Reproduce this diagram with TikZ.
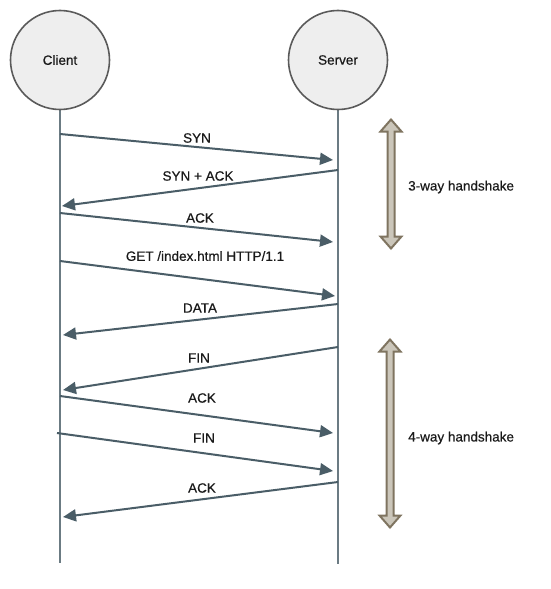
\documentclass[tikz,border=0pt]{standalone}
\usepackage{fontspec}
\setmainfont{Liberation Sans}[FakeBold=0.5]
\usetikzlibrary{arrows.meta}

\definecolor{partyfill}{HTML}{EEEEEE}
\definecolor{partyline}{HTML}{5A5A5A}
\definecolor{lifecol}{HTML}{6B7B83}
\definecolor{msgcol}{HTML}{4A5D67}
\definecolor{textcol}{HTML}{1A1A1A}
\definecolor{shakefill}{HTML}{CBC6BA}
\definecolor{shakeline}{HTML}{7F7460}

\begin{document}
\begin{tikzpicture}[x=1pt,y=-1pt,font=\fontsize{13.5}{16}\selectfont,
    party/.style={circle,draw=partyline,fill=partyfill,line width=1.6pt,
        minimum size=99pt,inner sep=0pt,text=textcol},
    lifeline/.style={draw=lifecol,line width=2pt},
    msg/.style={draw=msgcol,line width=2pt,
        -{Triangle[length=13pt,width=12pt,fill=msgcol]}},
    lbl/.style={text=textcol,inner sep=0pt},
    shake/.style={draw=shakeline,fill=shakefill,line width=2pt}]

    \useasboundingbox (0,0) rectangle (550,589);

    % Define the two parties and their lifelines
    \coordinate (client-end) at (60,563);
    \coordinate (server-end) at (338,564);
    \draw[lifeline] (60,100) -- (client-end);
    \draw[lifeline] (338,100) -- (server-end);
    \node[party] (client) at (60,60) {Client};
    \node[party] (server) at (338,60) {Server};

    % End points of the messages on the lifelines
    \coordinate (c-syn) at (60,134);     \coordinate (s-syn) at (333,160);
    \coordinate (s-synack) at (338,170); \coordinate (c-synack) at (62,206);
    \coordinate (c-ack1) at (60,213);    \coordinate (s-ack1) at (333,242);
    \coordinate (c-get) at (60,261);     \coordinate (s-get) at (335,296);
    \coordinate (s-data) at (338,304);   \coordinate (c-data) at (63,335);
    \coordinate (s-fin1) at (338,347);   \coordinate (c-fin1) at (63,390);
    \coordinate (c-ack2) at (60,396);    \coordinate (s-ack2) at (333,433);
    \coordinate (c-fin2) at (57,433);    \coordinate (s-fin2) at (333,471);
    \coordinate (s-ack3) at (338,482);   \coordinate (c-ack3) at (63,517);

    % Connection set-up
    \draw[msg] (c-syn) -- (s-syn);
    \node[lbl] (l-syn) at (197,138) {SYN};
    \draw[msg] (s-synack) -- (c-synack);
    \node[lbl] (l-synack) at (198,176) {SYN + ACK};
    \draw[msg] (c-ack1) -- (s-ack1);
    \node[lbl] (l-ack1) at (200,218) {ACK};

    % Request and answer
    \draw[msg] (c-get) -- (s-get);
    \node[lbl] (l-get) at (205,256) {GET /index.html HTTP/1.1};
    \draw[msg] (s-data) -- (c-data);
    \node[lbl] (l-data) at (200,308) {DATA};

    % Connection tear-down
    \draw[msg] (s-fin1) -- (c-fin1);
    \node[lbl] (l-fin1) at (199,358) {FIN};
    \draw[msg] (c-ack2) -- (s-ack2);
    \node[lbl] (l-ack2) at (202,398) {ACK};
    \draw[msg] (c-fin2) -- (s-fin2);
    \node[lbl] (l-fin2) at (204,438) {FIN};
    \draw[msg] (s-ack3) -- (c-ack3);
    \node[lbl] (l-ack3) at (202,488) {ACK};

    % Brackets for the two handshakes
    \draw[shake] (391,119.5) -- ++(10.5,12) -- ++(-7,0) -- (394.5,236.5)
        -- ++(7,0) -- (391,248.5) -- ++(-10.5,-12) -- ++(7,0)
        -- (387.5,131.5) -- ++(-7,0) -- cycle;
    \node[lbl,anchor=west] (l-three) at (408,187) {3-way handshake};

    \draw[shake] (390,339.5) -- ++(10.5,12) -- ++(-7,0) -- (393.5,515.5)
        -- ++(7,0) -- (390,527.5) -- ++(-10.5,-12) -- ++(7,0)
        -- (386.5,351.5) -- ++(-7,0) -- cycle;
    \node[lbl,anchor=west] (l-four) at (408,438) {4-way handshake};

\end{tikzpicture}
\end{document}
